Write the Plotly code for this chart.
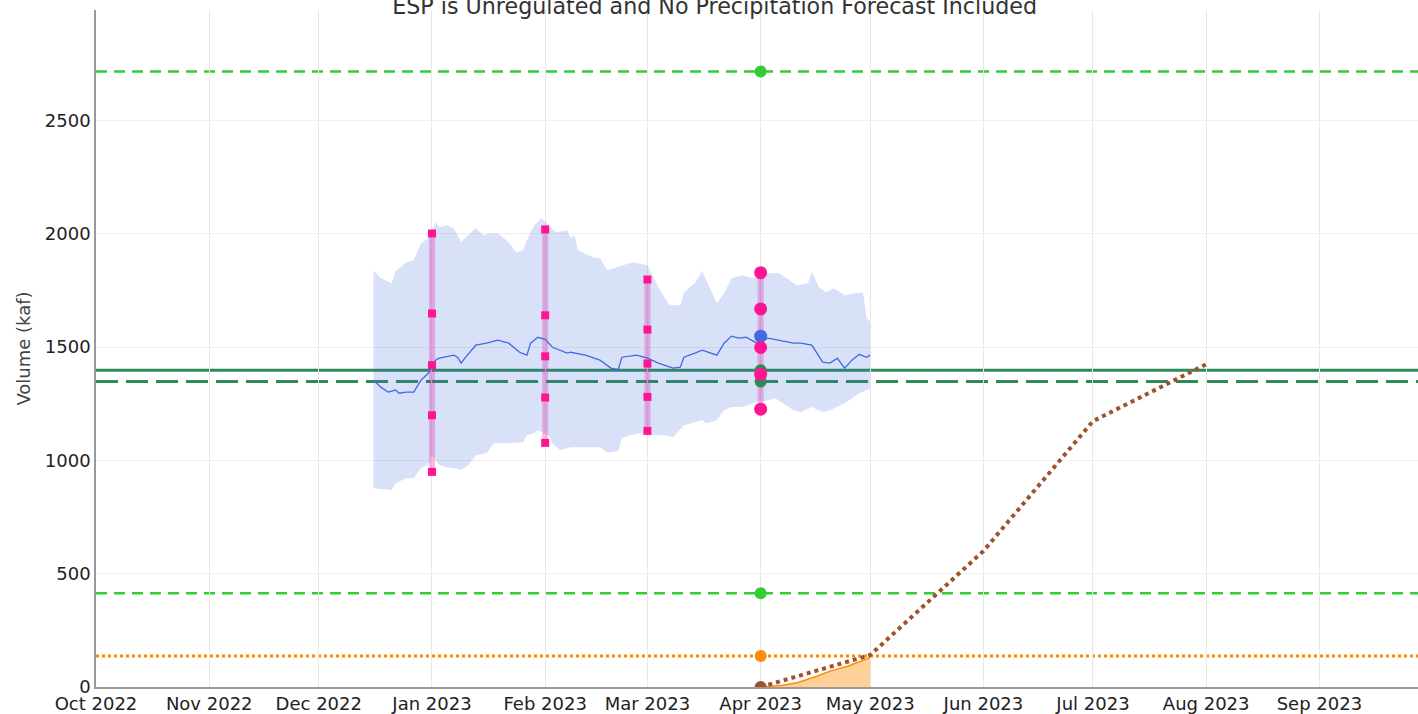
import plotly.graph_objects as go

FONT = "DejaVu Sans"

# ---------------- data ----------------
upper_dates = ["2022-12-16","2022-12-18","2022-12-21","2022-12-22","2022-12-25","2022-12-27","2022-12-29","2022-12-31",
               "2023-01-02","2023-01-03","2023-01-05","2023-01-07","2023-01-09","2023-01-10","2023-01-13","2023-01-15",
               "2023-01-17","2023-01-19","2023-01-22","2023-01-24","2023-01-26","2023-01-27","2023-01-29","2023-01-31",
               "2023-02-02","2023-02-04","2023-02-07","2023-02-08","2023-02-09","2023-02-10","2023-02-14","2023-02-16",
               "2023-02-18","2023-02-20","2023-02-22","2023-02-25","2023-03-01","2023-03-04","2023-03-07","2023-03-10",
               "2023-03-11","2023-03-14","2023-03-16","2023-03-18","2023-03-20","2023-03-22","2023-03-24","2023-03-27",
               "2023-03-30","2023-04-02","2023-04-06","2023-04-09","2023-04-11","2023-04-14","2023-04-15","2023-04-17",
               "2023-04-19","2023-04-21","2023-04-24","2023-04-27","2023-04-29","2023-04-30","2023-05-01"]
upper_vals = [1839,1803,1781,1834,1874,1883,1958,1980,
              2050,2028,2037,2024,1962,1980,2024,1993,
              2002,2002,1962,1918,1927,1971,2037,2068,
              2037,2006,2015,1980,1993,1927,1896,1892,
              1839,1850,1861,1874,1861,1764,1684,1684,
              1742,1781,1834,1764,1693,1737,1803,1817,
              1803,1825,1825,1795,1772,1781,1830,1764,
              1742,1759,1728,1737,1742,1631,1609]

lower_dates = ["2022-12-16","2022-12-18","2022-12-21","2022-12-22","2022-12-25","2022-12-27","2022-12-29","2022-12-31",
               "2023-01-01","2023-01-03","2023-01-05","2023-01-07","2023-01-09","2023-01-11","2023-01-13","2023-01-16",
               "2023-01-18","2023-01-22","2023-01-26","2023-01-27","2023-01-29","2023-01-30","2023-02-02","2023-02-03",
               "2023-02-05","2023-02-08","2023-02-11","2023-02-16","2023-02-18","2023-02-21","2023-02-22","2023-02-24",
               "2023-02-27","2023-03-01","2023-03-06","2023-03-08","2023-03-11","2023-03-14","2023-03-16","2023-03-17",
               "2023-03-20","2023-03-22","2023-03-24","2023-03-27","2023-03-31","2023-04-03","2023-04-05","2023-04-07",
               "2023-04-10","2023-04-12","2023-04-15","2023-04-18","2023-04-20","2023-04-24","2023-04-28","2023-04-30",
               "2023-05-01"]
lower_vals = [877,873,869,899,921,921,966,979,
              1023,979,970,966,957,979,1023,1032,
              1076,1076,1080,1111,1120,1133,1111,1076,
              1045,1058,1058,1058,1036,1040,1098,1111,
              1120,1111,1111,1102,1155,1168,1177,1164,
              1177,1221,1235,1235,1257,1265,1274,1252,
              1221,1213,1235,1213,1221,1252,1296,1310,
              1315]

median_dates = ["2022-12-16","2022-12-18","2022-12-20","2022-12-22","2022-12-23","2022-12-25","2022-12-27","2022-12-29",
                "2022-12-31","2023-01-02","2023-01-03","2023-01-07","2023-01-08","2023-01-09","2023-01-10","2023-01-13",
                "2023-01-16","2023-01-19","2023-01-22","2023-01-25","2023-01-27","2023-01-28","2023-01-30","2023-02-01",
                "2023-02-03","2023-02-07","2023-02-08","2023-02-12","2023-02-16","2023-02-19","2023-02-21","2023-02-22",
                "2023-02-26","2023-03-01","2023-03-04","2023-03-08","2023-03-10","2023-03-11","2023-03-14","2023-03-16",
                "2023-03-20","2023-03-22","2023-03-24","2023-03-26","2023-03-28","2023-03-31","2023-04-03","2023-04-06",
                "2023-04-10","2023-04-12","2023-04-15","2023-04-18","2023-04-20","2023-04-22","2023-04-24","2023-04-26",
                "2023-04-28","2023-04-30","2023-05-01"]
median_vals = [1354,1323,1301,1310,1296,1301,1301,1354,
               1384,1442,1451,1464,1455,1429,1451,1508,
               1517,1530,1517,1477,1464,1517,1543,1534,
               1499,1473,1477,1464,1442,1407,1400,1455,
               1464,1451,1429,1407,1411,1455,1473,1486,
               1464,1517,1548,1539,1543,1517,1539,1530,
               1517,1517,1508,1433,1429,1451,1407,1442,
               1468,1455,1464]

# monthly forecast percentiles (squares)
fc_dates = ["2023-01-01", "2023-02-01", "2023-03-01"]
fc_vals = [[2001, 1648, 1420, 1199, 949],
           [2019, 1640, 1459, 1277, 1077],
           [1798, 1577, 1427, 1280, 1130]]

# current (Apr 1) forecast
cur_date = "2023-04-01"
cur_vals = [1828, 1668, 1498, 1380, 1226]
cur_esp_median = 1548

# reference levels
lime_levels = [2716, 414]
orange_level = 137
green_solid_level = 1398
green_dash_level = 1348

# observed accumulation (orange area)
obs_dates = ["2023-04-01","2023-04-03","2023-04-07","2023-04-11","2023-04-16","2023-04-20","2023-04-25","2023-04-30","2023-05-01"]
obs_vals = [0, 2, 8, 19, 45, 70, 93, 124, 132]

# brown dotted (historical accumulation)
hist_dates = ["2023-04-01", "2023-05-01", "2023-06-01", "2023-07-01", "2023-08-01"]
hist_vals = [0, 141, 600, 1173, 1424]

title_text = "ESP is Unregulated and No Precipitation Forecast Included"
x_range = ["2022-10-01", "2023-09-28"]
y_range = [0, 2987]

# ---------------- figure ----------------
fig = go.Figure()

# pink range bars (under band)
for d, vals in zip(fc_dates + [cur_date], fc_vals + [cur_vals]):
    fig.add_trace(go.Scatter(x=[d, d], y=[min(vals), max(vals)], mode="lines",
                             line=dict(color="rgba(255,20,147,0.3)", width=6),
                             hoverinfo="skip"))

# band
fig.add_trace(go.Scatter(x=upper_dates + lower_dates[::-1], y=upper_vals + lower_vals[::-1],
                         fill="toself", fillcolor="rgba(65,105,225,0.2)", mode="lines",
                         line=dict(width=0, color="rgba(65,105,225,0)")))
fig.add_trace(go.Scatter(x=median_dates, y=median_vals, mode="lines",
                         line=dict(color="royalblue", width=1.3)))

# observed area
fig.add_trace(go.Scatter(x=obs_dates, y=obs_vals, mode="lines", fill="tozeroy",
                         fillcolor="rgba(255,140,0,0.4)", line=dict(color="darkorange", width=1.5)))

# historical dotted
fig.add_trace(go.Scatter(x=hist_dates, y=hist_vals, mode="lines",
                         line=dict(color="sienna", width=4, dash="dot")))

# horizontal levels
for lv in lime_levels:
    fig.add_hline(y=lv, line=dict(color="limegreen", width=2.5, dash="11px,7px"), layer="below")
fig.add_hline(y=orange_level, line=dict(color="darkorange", width=3, dash="dot"), layer="below")
fig.add_hline(y=green_solid_level, line=dict(color="seagreen", width=3), layer="below")
fig.add_hline(y=green_dash_level, line=dict(color="seagreen", width=3, dash="22px,8px"), layer="below")

# squares
for d, vals in zip(fc_dates, fc_vals):
    fig.add_trace(go.Scatter(x=[d] * len(vals), y=vals, mode="markers",
                             marker=dict(symbol="square", size=8, color="deeppink")))

# Apr 1 markers
fig.add_trace(go.Scatter(x=[cur_date] * 2, y=lime_levels, mode="markers",
                         marker=dict(size=12, color="limegreen")))
fig.add_trace(go.Scatter(x=[cur_date], y=[orange_level], mode="markers",
                         marker=dict(size=12, color="darkorange")))
fig.add_trace(go.Scatter(x=[cur_date], y=[hist_vals[0]], mode="markers",
                         marker=dict(size=12, color="sienna")))
fig.add_trace(go.Scatter(x=[cur_date] * 2, y=[green_solid_level, green_dash_level], mode="markers",
                         marker=dict(size=12, color="seagreen")))
fig.add_trace(go.Scatter(x=[cur_date], y=[cur_esp_median], mode="markers",
                         marker=dict(size=13, color="royalblue")))
fig.add_trace(go.Scatter(x=[cur_date] * len(cur_vals), y=cur_vals, mode="markers",
                         marker=dict(size=13, color="deeppink")))

fig.update_layout(
    width=1418, height=714,
    margin=dict(l=96, r=0, t=10, b=27),
    paper_bgcolor="white", plot_bgcolor="white",
    showlegend=False,
    font=dict(family=FONT, size=18, color="#333"),
    title=dict(text=title_text, x=0.504, xanchor="center", xref="container",
               y=0.991, yanchor="middle", yref="container",
               font=dict(family=FONT, size=22.2, color="#333")),
)
fig.update_xaxes(range=x_range, type="date", dtick="M1", tickformat="%b %Y",
                 showgrid=True, gridcolor="#e8e8e8", gridwidth=1,
                 showline=True, linecolor="#999", linewidth=1.5,
                 ticks="", zeroline=False, tickfont=dict(size=18, color="#222"))
fig.update_yaxes(range=y_range, dtick=500, tick0=0,
                 showgrid=True, gridcolor="#efefef", gridwidth=1,
                 showline=True, linecolor="#999", linewidth=1.5,
                 ticks="", zeroline=False, tickfont=dict(size=18, color="#222"),
                 title=dict(text="Volume (kaf)", standoff=10, font=dict(size=18, color="#444")))

# remove the default page margin so the 1418x714 figure fills the window exactly
fig.write_html("out.html", config={"displayModeBar": False},
               post_script="document.body.style.margin='0';")
